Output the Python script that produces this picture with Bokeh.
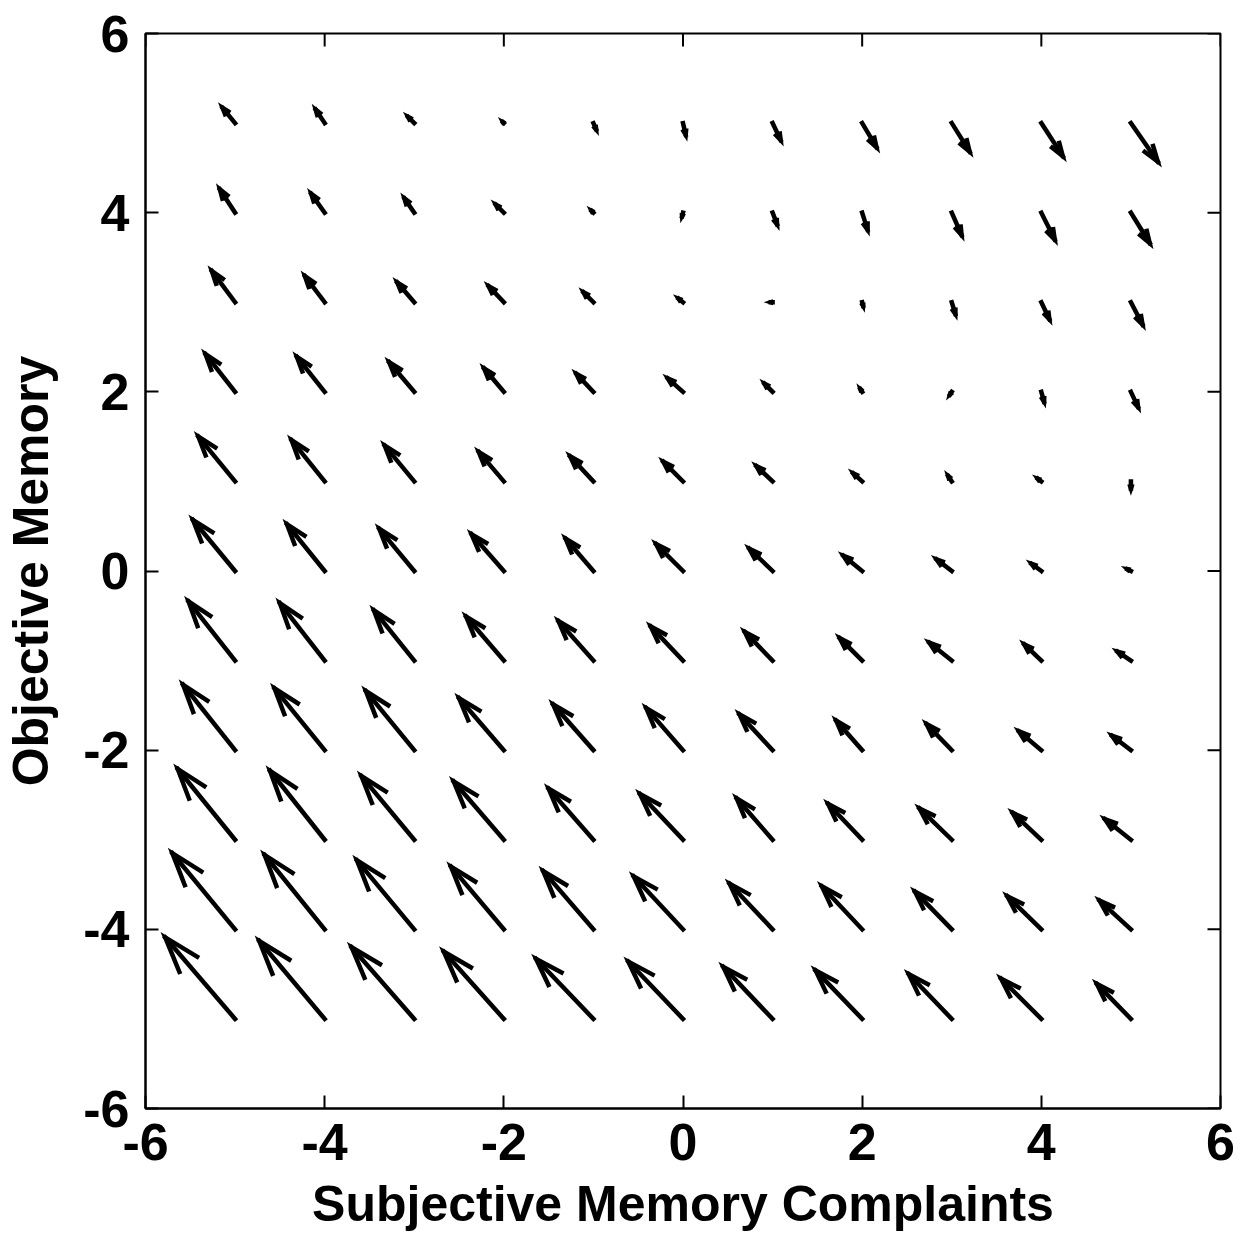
import numpy as np
from bokeh.plotting import figure
from bokeh.models import FixedTicker, CustomJSTickFormatter
from bokeh.embed import file_html
from bokeh.resources import INLINE

# grid positions
grid_x = [-5, -4, -3, -2, -1, 0, 1, 2, 3, 4, 5]
grid_y = [-5, -4, -3, -2, -1, 0, 1, 2, 3, 4, 5]

# horizontal components, one row per grid_y value (bottom to top)
u_rows = [
    [-0.78, -0.73, -0.70, -0.67, -0.64, -0.61, -0.55, -0.52, -0.48, -0.45, -0.38],
    [-0.70, -0.67, -0.64, -0.59, -0.56, -0.55, -0.48, -0.45, -0.41, -0.38, -0.35],
    [-0.64, -0.61, -0.59, -0.56, -0.50, -0.48, -0.40, -0.38, -0.36, -0.32, -0.29],
    [-0.58, -0.56, -0.54, -0.50, -0.45, -0.41, -0.37, -0.29, -0.28, -0.25, -0.21],
    [-0.52, -0.50, -0.45, -0.42, -0.39, -0.36, -0.31, -0.25, -0.25, -0.19, -0.15],
    [-0.47, -0.42, -0.39, -0.36, -0.31, -0.30, -0.26, -0.21, -0.17, -0.11, -0.04],
    [-0.41, -0.37, -0.33, -0.28, -0.26, -0.22, -0.18, -0.10, -0.04, -0.04, 0.00],
    [-0.33, -0.31, -0.28, -0.22, -0.19, -0.17, -0.09, -0.02, -0.02, 0.03, 0.08],
    [-0.26, -0.22, -0.19, -0.17, -0.11, -0.05, -0.02, 0.01, 0.04, 0.09, 0.13],
    [-0.17, -0.15, -0.11, -0.09, -0.02, -0.01, 0.05, 0.06, 0.11, 0.15, 0.21],
    [-0.14, -0.10, -0.07, -0.01, 0.03, 0.03, 0.09, 0.16, 0.20, 0.24, 0.30],
]

# vertical components, one row per grid_y value (bottom to top)
v_rows = [
    [0.91, 0.87, 0.80, 0.75, 0.67, 0.64, 0.58, 0.54, 0.50, 0.45, 0.39],
    [0.85, 0.83, 0.77, 0.70, 0.65, 0.59, 0.51, 0.48, 0.42, 0.37, 0.32],
    [0.79, 0.77, 0.71, 0.65, 0.57, 0.51, 0.46, 0.40, 0.35, 0.30, 0.23],
    [0.73, 0.69, 0.66, 0.58, 0.51, 0.47, 0.40, 0.33, 0.29, 0.21, 0.16],
    [0.66, 0.64, 0.56, 0.49, 0.44, 0.38, 0.32, 0.25, 0.20, 0.18, 0.10],
    [0.57, 0.52, 0.47, 0.41, 0.36, 0.30, 0.25, 0.17, 0.13, 0.08, 0.02],
    [0.50, 0.46, 0.40, 0.33, 0.28, 0.22, 0.17, 0.09, 0.06, 0.03, -0.08],
    [0.42, 0.39, 0.33, 0.26, 0.20, 0.15, 0.09, 0.03, -0.03, -0.11, -0.17],
    [0.35, 0.29, 0.22, 0.18, 0.11, 0.04, 0.00, -0.04, -0.13, -0.19, -0.25],
    [0.26, 0.21, 0.16, 0.09, 0.02, -0.04, -0.13, -0.19, -0.25, -0.30, -0.34],
    [0.17, 0.15, 0.07, 0.01, -0.07, -0.13, -0.19, -0.27, -0.32, -0.37, -0.43],
]

tick_values = [-6, -4, -2, 0, 2, 4, 6]
x_label = "Subjective Memory Complaints"
y_label = "Objective Memory"

X_LO, X_HI = -6, 6
Y_LO, Y_HI = -6, 6

# build quiver segments (MATLAB-style arrowheads)
alpha, beta = 0.33, 0.33
seg_x, seg_y = [], []
for j, gy in enumerate(grid_y):
    for i, gx in enumerate(grid_x):
        u = u_rows[j][i]
        v = v_rows[j][i]
        tx, ty = gx + u, gy + v
        seg_x.append([gx, tx])
        seg_y.append([gy, ty])
        seg_x.append([tx - alpha * (u + beta * v), tx, tx - alpha * (u - beta * v)])
        seg_y.append([ty - alpha * (v - beta * u), ty, ty - alpha * (v + beta * u)])

p = figure(width=1244, height=1234, x_range=(X_LO, X_HI), y_range=(Y_LO, Y_HI),
           output_backend="svg", toolbar_location=None,
           min_border_left=145, min_border_right=24,
           min_border_top=33, min_border_bottom=126)
p.grid.visible = False
p.background_fill_color = "white"
p.outline_line_color = "black"
p.outline_line_width = 2

p.multi_line(xs=seg_x, ys=seg_y, line_color="black", line_width=4.5,
             line_join="miter", line_cap="square")

# inward ticks on the top and right edges of the box
n = len(tick_values)
p.scatter(x=tick_values, y=[Y_HI] * n, marker="dash", size=26, angle=np.pi / 2,
          line_color="black", line_width=2)
p.scatter(x=[X_HI] * n, y=tick_values, marker="dash", size=26, angle=0,
          line_color="black", line_width=2)

font = "Liberation Sans"
fmt = CustomJSTickFormatter(code="return tick.toFixed(0);")
for ax in (p.xaxis[0], p.yaxis[0]):
    ax.ticker = FixedTicker(ticks=tick_values)
    ax.formatter = fmt
    ax.major_tick_in = 13
    ax.major_tick_out = 0
    ax.minor_tick_line_color = None
    ax.axis_line_width = 2
    ax.major_tick_line_width = 2
    ax.major_label_text_font = font
    ax.major_label_text_font_style = "bold"
    ax.major_label_text_font_size = "52px"
    ax.major_label_text_color = "black"
    ax.axis_label_text_font = font
    ax.axis_label_text_font_style = "bold"
    ax.axis_label_text_font_size = "50px"
    ax.axis_label_text_color = "black"

p.xaxis.axis_label = x_label
p.yaxis.axis_label = y_label
p.xaxis.major_label_standoff = 15
p.yaxis.major_label_standoff = 16
p.xaxis.axis_label_standoff = 13
p.yaxis.axis_label_standoff = 21

open("out.html", "w").write(file_html(p, INLINE))
